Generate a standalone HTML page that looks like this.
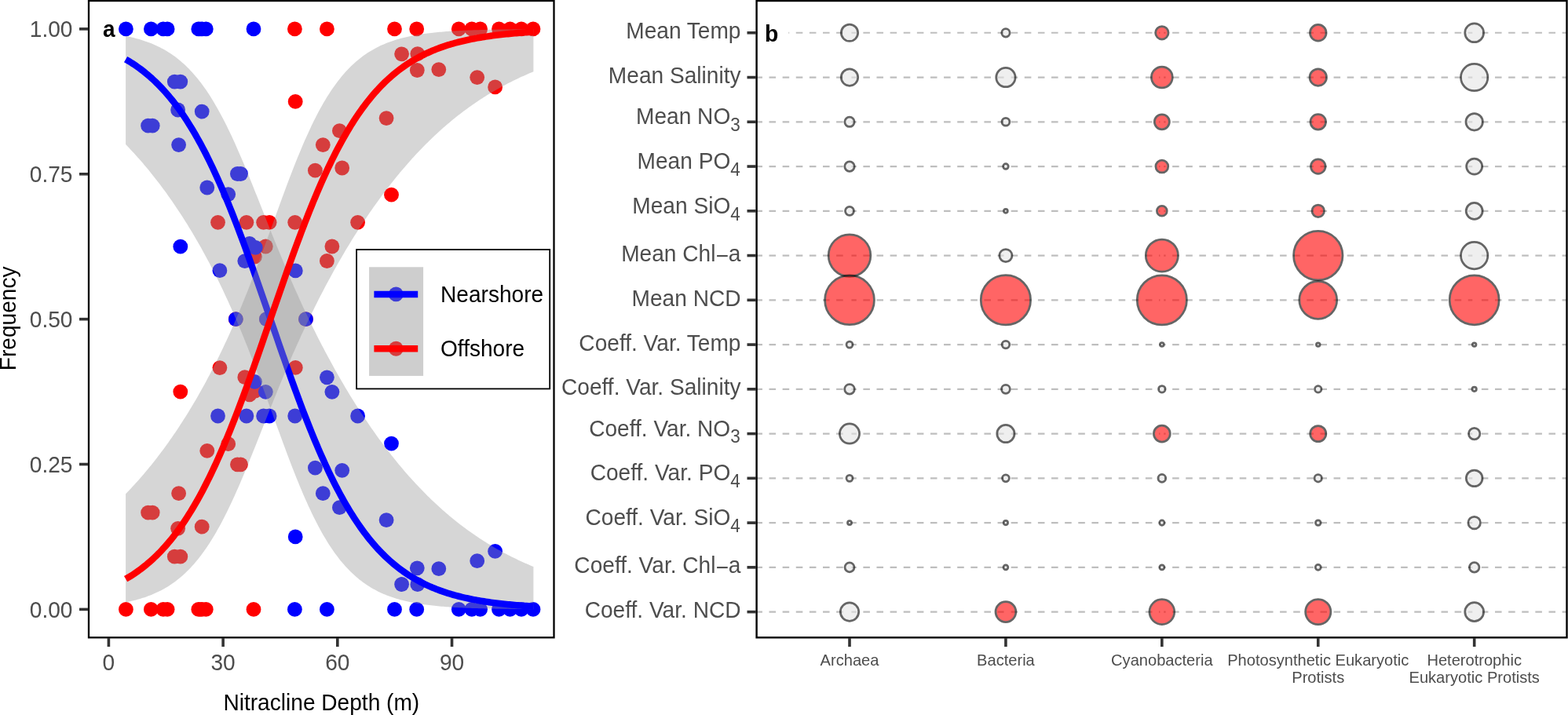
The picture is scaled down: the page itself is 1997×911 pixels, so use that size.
<!DOCTYPE html><html><head><meta charset="utf-8"><title>Nitracline depth and environmental correlates</title><style>html,body{margin:0;padding:0;background:#fff;overflow:hidden}svg{display:block}</style></head><body>
<svg width="1997" height="911" viewBox="0 0 1997 911" font-family="'Liberation Sans', Arial, Helvetica, sans-serif">
<rect width="1997" height="911" fill="#fff"/>
<defs><clipPath id="ca"><rect x="113" y="1" width="592.5" height="811.3"/></clipPath></defs>
<g clip-path="url(#ca)">
<circle cx="375.4" cy="36.90" r="9.4" fill="#f00"/>
<circle cx="416.4" cy="36.90" r="9.4" fill="#f00"/>
<circle cx="502.5" cy="36.90" r="9.4" fill="#f00"/>
<circle cx="530.7" cy="36.90" r="9.4" fill="#f00"/>
<circle cx="584.3" cy="36.90" r="9.4" fill="#f00"/>
<circle cx="600.9" cy="36.90" r="9.4" fill="#f00"/>
<circle cx="611.6" cy="36.90" r="9.4" fill="#f00"/>
<circle cx="635.5" cy="36.90" r="9.4" fill="#f00"/>
<circle cx="649.6" cy="36.90" r="9.4" fill="#f00"/>
<circle cx="664.0" cy="36.90" r="9.4" fill="#f00"/>
<circle cx="679.0" cy="36.90" r="9.4" fill="#f00"/>
<circle cx="277.5" cy="283.30" r="9.4" fill="#f00"/>
<circle cx="401.4" cy="217.20" r="9.4" fill="#f00"/>
<circle cx="435.7" cy="214.00" r="9.4" fill="#f00"/>
<circle cx="498.5" cy="248.20" r="9.4" fill="#f00"/>
<circle cx="313.9" cy="283.30" r="9.4" fill="#f00"/>
<circle cx="335.6" cy="283.30" r="9.4" fill="#f00"/>
<circle cx="343.1" cy="283.30" r="9.4" fill="#f00"/>
<circle cx="375.7" cy="283.30" r="9.4" fill="#f00"/>
<circle cx="455.6" cy="283.30" r="9.4" fill="#f00"/>
<circle cx="422.9" cy="314.00" r="9.4" fill="#f00"/>
<circle cx="416.4" cy="332.50" r="9.4" fill="#f00"/>
<circle cx="338.3" cy="314.00" r="9.4" fill="#f00"/>
<circle cx="324.4" cy="327.00" r="9.4" fill="#f00"/>
<circle cx="376.2" cy="129.40" r="9.4" fill="#f00"/>
<circle cx="432.4" cy="166.70" r="9.4" fill="#f00"/>
<circle cx="411.3" cy="184.60" r="9.4" fill="#f00"/>
<circle cx="492.1" cy="150.60" r="9.4" fill="#f00"/>
<circle cx="511.6" cy="68.80" r="9.4" fill="#f00"/>
<circle cx="531.8" cy="68.60" r="9.4" fill="#f00"/>
<circle cx="531.3" cy="89.50" r="9.4" fill="#f00"/>
<circle cx="558.8" cy="88.60" r="9.4" fill="#f00"/>
<circle cx="607.7" cy="98.60" r="9.4" fill="#f00"/>
<circle cx="630.6" cy="110.90" r="9.4" fill="#f00"/>
<circle cx="300.3" cy="406.65" r="9.4" fill="#f00"/>
<circle cx="339.4" cy="406.65" r="9.4" fill="#f00"/>
<circle cx="389.5" cy="406.65" r="9.4" fill="#f00"/>
<circle cx="160.4" cy="776.40" r="9.4" fill="#f00"/>
<circle cx="192.4" cy="776.40" r="9.4" fill="#f00"/>
<circle cx="207.9" cy="776.40" r="9.4" fill="#f00"/>
<circle cx="213.1" cy="776.40" r="9.4" fill="#f00"/>
<circle cx="252.8" cy="776.40" r="9.4" fill="#f00"/>
<circle cx="257.3" cy="776.40" r="9.4" fill="#f00"/>
<circle cx="262.3" cy="776.40" r="9.4" fill="#f00"/>
<circle cx="323.0" cy="776.40" r="9.4" fill="#f00"/>
<circle cx="222.3" cy="709.20" r="9.4" fill="#f00"/>
<circle cx="229.8" cy="709.20" r="9.4" fill="#f00"/>
<circle cx="226.6" cy="673.30" r="9.4" fill="#f00"/>
<circle cx="257.2" cy="671.20" r="9.4" fill="#f00"/>
<circle cx="188.6" cy="653.10" r="9.4" fill="#f00"/>
<circle cx="194.2" cy="653.10" r="9.4" fill="#f00"/>
<circle cx="227.6" cy="628.70" r="9.4" fill="#f00"/>
<circle cx="263.8" cy="574.30" r="9.4" fill="#f00"/>
<circle cx="290.7" cy="565.70" r="9.4" fill="#f00"/>
<circle cx="229.8" cy="499.10" r="9.4" fill="#f00"/>
<circle cx="279.9" cy="468.60" r="9.4" fill="#f00"/>
<circle cx="302.4" cy="591.80" r="9.4" fill="#f00"/>
<circle cx="306.5" cy="591.80" r="9.4" fill="#f00"/>
<circle cx="317.8" cy="502.90" r="9.4" fill="#f00"/>
<circle cx="325.3" cy="497.90" r="9.4" fill="#f00"/>
<circle cx="311.8" cy="480.70" r="9.4" fill="#f00"/>
<circle cx="376.3" cy="468.40" r="9.4" fill="#f00"/>
<circle cx="160.4" cy="36.90" r="9.4" fill="#00f"/>
<circle cx="192.4" cy="36.90" r="9.4" fill="#00f"/>
<circle cx="207.9" cy="36.90" r="9.4" fill="#00f"/>
<circle cx="213.1" cy="36.90" r="9.4" fill="#00f"/>
<circle cx="252.8" cy="36.90" r="9.4" fill="#00f"/>
<circle cx="257.3" cy="36.90" r="9.4" fill="#00f"/>
<circle cx="262.3" cy="36.90" r="9.4" fill="#00f"/>
<circle cx="323.0" cy="36.90" r="9.4" fill="#00f"/>
<circle cx="222.3" cy="104.10" r="9.4" fill="#00f"/>
<circle cx="229.8" cy="104.10" r="9.4" fill="#00f"/>
<circle cx="226.6" cy="140.00" r="9.4" fill="#00f"/>
<circle cx="257.2" cy="142.10" r="9.4" fill="#00f"/>
<circle cx="188.6" cy="160.20" r="9.4" fill="#00f"/>
<circle cx="194.2" cy="160.20" r="9.4" fill="#00f"/>
<circle cx="227.6" cy="184.60" r="9.4" fill="#00f"/>
<circle cx="263.8" cy="239.00" r="9.4" fill="#00f"/>
<circle cx="290.7" cy="247.60" r="9.4" fill="#00f"/>
<circle cx="229.8" cy="314.20" r="9.4" fill="#00f"/>
<circle cx="279.9" cy="344.70" r="9.4" fill="#00f"/>
<circle cx="302.4" cy="221.50" r="9.4" fill="#00f"/>
<circle cx="306.5" cy="221.50" r="9.4" fill="#00f"/>
<circle cx="317.8" cy="310.40" r="9.4" fill="#00f"/>
<circle cx="325.3" cy="315.40" r="9.4" fill="#00f"/>
<circle cx="311.8" cy="332.60" r="9.4" fill="#00f"/>
<circle cx="376.3" cy="344.90" r="9.4" fill="#00f"/>
<circle cx="300.3" cy="406.65" r="9.4" fill="#00f"/>
<circle cx="339.4" cy="406.65" r="9.4" fill="#00f"/>
<circle cx="389.5" cy="406.65" r="9.4" fill="#00f"/>
<circle cx="375.4" cy="776.40" r="9.4" fill="#00f"/>
<circle cx="416.4" cy="776.40" r="9.4" fill="#00f"/>
<circle cx="502.5" cy="776.40" r="9.4" fill="#00f"/>
<circle cx="530.7" cy="776.40" r="9.4" fill="#00f"/>
<circle cx="584.3" cy="776.40" r="9.4" fill="#00f"/>
<circle cx="600.9" cy="776.40" r="9.4" fill="#00f"/>
<circle cx="611.6" cy="776.40" r="9.4" fill="#00f"/>
<circle cx="635.5" cy="776.40" r="9.4" fill="#00f"/>
<circle cx="649.6" cy="776.40" r="9.4" fill="#00f"/>
<circle cx="664.0" cy="776.40" r="9.4" fill="#00f"/>
<circle cx="679.0" cy="776.40" r="9.4" fill="#00f"/>
<circle cx="277.5" cy="530.00" r="9.4" fill="#00f"/>
<circle cx="401.4" cy="596.10" r="9.4" fill="#00f"/>
<circle cx="435.7" cy="599.30" r="9.4" fill="#00f"/>
<circle cx="498.5" cy="565.10" r="9.4" fill="#00f"/>
<circle cx="313.9" cy="530.00" r="9.4" fill="#00f"/>
<circle cx="335.6" cy="530.00" r="9.4" fill="#00f"/>
<circle cx="343.1" cy="530.00" r="9.4" fill="#00f"/>
<circle cx="375.7" cy="530.00" r="9.4" fill="#00f"/>
<circle cx="455.6" cy="530.00" r="9.4" fill="#00f"/>
<circle cx="422.9" cy="499.30" r="9.4" fill="#00f"/>
<circle cx="416.4" cy="480.80" r="9.4" fill="#00f"/>
<circle cx="338.3" cy="499.30" r="9.4" fill="#00f"/>
<circle cx="324.4" cy="486.30" r="9.4" fill="#00f"/>
<circle cx="376.2" cy="683.90" r="9.4" fill="#00f"/>
<circle cx="432.4" cy="646.60" r="9.4" fill="#00f"/>
<circle cx="411.3" cy="628.70" r="9.4" fill="#00f"/>
<circle cx="492.1" cy="662.70" r="9.4" fill="#00f"/>
<circle cx="511.6" cy="744.50" r="9.4" fill="#00f"/>
<circle cx="531.8" cy="744.70" r="9.4" fill="#00f"/>
<circle cx="531.3" cy="723.80" r="9.4" fill="#00f"/>
<circle cx="558.8" cy="724.70" r="9.4" fill="#00f"/>
<circle cx="607.7" cy="714.70" r="9.4" fill="#00f"/>
<circle cx="630.6" cy="702.40" r="9.4" fill="#00f"/>
<polygon points="160.10,45.84 162.27,46.29 164.45,46.76 166.62,47.25 168.79,47.77 170.96,48.31 173.14,48.88 175.31,49.47 177.48,50.09 179.66,50.74 181.83,51.43 184.00,52.14 186.17,52.89 188.35,53.68 190.52,54.50 192.69,55.35 194.86,56.25 197.04,57.19 199.21,58.18 201.38,59.20 203.56,60.28 205.73,61.40 207.90,62.58 210.07,63.80 212.25,65.08 214.42,66.42 216.59,67.81 218.77,69.27 220.94,70.78 223.11,72.37 225.28,74.02 227.46,75.73 229.63,77.52 231.80,79.39 233.98,81.33 236.15,83.34 238.32,85.44 240.49,87.62 242.67,89.88 244.84,92.23 247.01,94.67 249.18,97.19 251.36,99.81 253.53,102.53 255.70,105.34 257.88,108.25 260.05,111.25 262.22,114.36 264.39,117.56 266.57,120.87 268.74,124.28 270.91,127.79 273.09,131.41 275.26,135.13 277.43,138.95 279.60,142.88 281.78,146.91 283.95,151.03 286.12,155.26 288.30,159.59 290.47,164.01 292.64,168.52 294.81,173.12 296.99,177.81 299.16,182.59 301.33,187.45 303.51,192.38 305.68,197.38 307.85,202.46 310.02,207.59 312.20,212.79 314.37,218.04 316.54,223.33 318.71,228.68 320.89,234.05 323.06,239.46 325.23,244.90 327.41,250.36 329.58,255.84 331.75,261.32 333.92,266.81 336.10,272.31 338.27,277.80 340.44,283.28 342.62,288.74 344.79,294.20 346.96,299.63 349.13,305.03 351.31,310.41 353.48,315.76 355.65,321.08 357.83,326.36 360.00,331.60 362.17,336.80 364.34,341.97 366.52,347.09 368.69,352.16 370.86,357.20 373.03,362.18 375.21,367.13 377.38,372.02 379.55,376.87 381.73,381.67 383.90,386.43 386.07,391.13 388.24,395.80 390.42,400.41 392.59,404.98 394.76,409.50 396.94,413.98 399.11,418.41 401.28,422.80 403.45,427.15 405.63,431.45 407.80,435.70 409.97,439.92 412.15,444.09 414.32,448.22 416.49,452.31 418.66,456.36 420.84,460.36 423.01,464.33 425.18,468.26 427.35,472.15 429.53,476.00 431.70,479.81 433.87,483.59 436.05,487.32 438.22,491.02 440.39,494.68 442.56,498.31 444.74,501.90 446.91,505.45 449.08,508.97 451.26,512.46 453.43,515.90 455.60,519.32 457.77,522.70 459.95,526.04 462.12,529.35 464.29,532.63 466.47,535.87 468.64,539.08 470.81,542.26 472.98,545.40 475.16,548.51 477.33,551.59 479.50,554.64 481.67,557.65 483.85,560.64 486.02,563.59 488.19,566.51 490.37,569.40 492.54,572.25 494.71,575.08 496.88,577.87 499.06,580.64 501.23,583.37 503.40,586.07 505.58,588.75 507.75,591.39 509.92,594.00 512.09,596.59 514.27,599.14 516.44,601.67 518.61,604.16 520.79,606.63 522.96,609.07 525.13,611.48 527.30,613.86 529.48,616.21 531.65,618.54 533.82,620.83 535.99,623.10 538.17,625.35 540.34,627.56 542.51,629.75 544.69,631.91 546.86,634.04 549.03,636.15 551.20,638.23 553.38,640.29 555.55,642.32 557.72,644.32 559.90,646.30 562.07,648.25 564.24,650.18 566.41,652.08 568.59,653.96 570.76,655.82 572.93,657.65 575.11,659.45 577.28,661.23 579.45,662.99 581.62,664.73 583.80,666.44 585.97,668.13 588.14,669.79 590.32,671.44 592.49,673.06 594.66,674.66 596.83,676.23 599.01,677.79 601.18,679.32 603.35,680.83 605.52,682.33 607.70,683.80 609.87,685.25 612.04,686.68 614.22,688.09 616.39,689.47 618.56,690.84 620.73,692.20 622.91,693.53 625.08,694.84 627.25,696.13 629.43,697.41 631.60,698.66 633.77,699.90 635.94,701.12 638.12,702.32 640.29,703.51 642.46,704.67 644.64,705.82 646.81,706.95 648.98,708.07 651.15,709.17 653.33,710.25 655.50,711.32 657.67,712.37 659.84,713.41 662.02,714.43 664.19,715.43 666.36,716.42 668.54,717.39 670.71,718.35 672.88,719.30 675.05,720.23 677.23,721.14 679.40,722.04 679.40,776.15 677.23,776.14 675.05,776.13 672.88,776.11 670.71,776.10 668.54,776.08 666.36,776.06 664.19,776.05 662.02,776.03 659.84,776.01 657.67,775.99 655.50,775.97 653.33,775.95 651.15,775.92 648.98,775.90 646.81,775.87 644.64,775.84 642.46,775.81 640.29,775.78 638.12,775.75 635.94,775.72 633.77,775.68 631.60,775.65 629.43,775.61 627.25,775.57 625.08,775.52 622.91,775.48 620.73,775.43 618.56,775.38 616.39,775.33 614.22,775.27 612.04,775.22 609.87,775.16 607.70,775.09 605.52,775.02 603.35,774.95 601.18,774.88 599.01,774.80 596.83,774.72 594.66,774.63 592.49,774.54 590.32,774.45 588.14,774.35 585.97,774.24 583.80,774.13 581.62,774.01 579.45,773.89 577.28,773.76 575.11,773.63 572.93,773.49 570.76,773.34 568.59,773.18 566.41,773.01 564.24,772.84 562.07,772.66 559.90,772.47 557.72,772.27 555.55,772.06 553.38,771.84 551.20,771.61 549.03,771.36 546.86,771.11 544.69,770.84 542.51,770.56 540.34,770.26 538.17,769.95 535.99,769.62 533.82,769.28 531.65,768.92 529.48,768.54 527.30,768.15 525.13,767.73 522.96,767.30 520.79,766.84 518.61,766.36 516.44,765.86 514.27,765.33 512.09,764.78 509.92,764.20 507.75,763.60 505.58,762.96 503.40,762.29 501.23,761.60 499.06,760.86 496.88,760.10 494.71,759.30 492.54,758.45 490.37,757.58 488.19,756.65 486.02,755.69 483.85,754.68 481.67,753.63 479.50,752.53 477.33,751.37 475.16,750.17 472.98,748.91 470.81,747.59 468.64,746.22 466.47,744.78 464.29,743.29 462.12,741.72 459.95,740.09 457.77,738.39 455.60,736.62 453.43,734.77 451.26,732.85 449.08,730.84 446.91,728.76 444.74,726.59 442.56,724.33 440.39,721.99 438.22,719.55 436.05,717.02 433.87,714.39 431.70,711.67 429.53,708.85 427.35,705.92 425.18,702.89 423.01,699.75 420.84,696.51 418.66,693.15 416.49,689.69 414.32,686.11 412.15,682.43 409.97,678.63 407.80,674.71 405.63,670.69 403.45,666.55 401.28,662.29 399.11,657.93 396.94,653.45 394.76,648.86 392.59,644.17 390.42,639.37 388.24,634.46 386.07,629.46 383.90,624.35 381.73,619.15 379.55,613.86 377.38,608.49 375.21,603.03 373.03,597.50 370.86,591.89 368.69,586.22 366.52,580.49 364.34,574.70 362.17,568.86 360.00,562.98 357.83,557.07 355.65,551.12 353.48,545.15 351.31,539.17 349.13,533.17 346.96,527.17 344.79,521.17 342.62,515.17 340.44,509.19 338.27,503.23 336.10,497.29 333.92,491.38 331.75,485.50 329.58,479.66 327.41,473.86 325.23,468.11 323.06,462.41 320.89,456.75 318.71,451.15 316.54,445.61 314.37,440.12 312.20,434.70 310.02,429.33 307.85,424.03 305.68,418.78 303.51,413.60 301.33,408.49 299.16,403.44 296.99,398.45 294.81,393.53 292.64,388.67 290.47,383.87 288.30,379.13 286.12,374.46 283.95,369.84 281.78,365.29 279.60,360.80 277.43,356.36 275.26,351.99 273.09,347.67 270.91,343.40 268.74,339.19 266.57,335.04 264.39,330.94 262.22,326.89 260.05,322.90 257.88,318.95 255.70,315.06 253.53,311.21 251.36,307.41 249.18,303.67 247.01,299.96 244.84,296.31 242.67,292.70 240.49,289.13 238.32,285.61 236.15,282.13 233.98,278.70 231.80,275.31 229.63,271.96 227.46,268.65 225.28,265.38 223.11,262.15 220.94,258.96 218.77,255.81 216.59,252.70 214.42,249.63 212.25,246.60 210.07,243.60 207.90,240.64 205.73,237.71 203.56,234.83 201.38,231.97 199.21,229.16 197.04,226.38 194.86,223.63 192.69,220.92 190.52,218.24 188.35,215.59 186.17,212.98 184.00,210.40 181.83,207.85 179.66,205.34 177.48,202.85 175.31,200.40 173.14,197.98 170.96,195.59 168.79,193.23 166.62,190.91 164.45,188.61 162.27,186.34 160.10,184.10" fill="#999" fill-opacity="0.4"/>
<polyline points="160.10,75.56 162.27,76.83 164.45,78.14 166.62,79.49 168.79,80.88 170.96,82.32 173.14,83.79 175.31,85.32 177.48,86.89 179.66,88.50 181.83,90.17 184.00,91.88 186.17,93.64 188.35,95.46 190.52,97.33 192.69,99.25 194.86,101.23 197.04,103.26 199.21,105.36 201.38,107.51 203.56,109.72 205.73,111.99 207.90,114.33 210.07,116.73 212.25,119.20 214.42,121.73 216.59,124.33 218.77,127.00 220.94,129.73 223.11,132.54 225.28,135.42 227.46,138.38 229.63,141.41 231.80,144.51 233.98,147.69 236.15,150.94 238.32,154.28 240.49,157.69 242.67,161.18 244.84,164.76 247.01,168.41 249.18,172.14 251.36,175.96 253.53,179.86 255.70,183.84 257.88,187.90 260.05,192.05 262.22,196.28 264.39,200.59 266.57,204.99 268.74,209.46 270.91,214.02 273.09,218.67 275.26,223.39 277.43,228.19 279.60,233.08 281.78,238.04 283.95,243.08 286.12,248.20 288.30,253.39 290.47,258.66 292.64,264.00 294.81,269.41 296.99,274.89 299.16,280.44 301.33,286.05 303.51,291.72 305.68,297.46 307.85,303.25 310.02,309.10 312.20,315.00 314.37,320.96 316.54,326.96 318.71,333.00 320.89,339.08 323.06,345.21 325.23,351.37 327.41,357.56 329.58,363.77 331.75,370.02 333.92,376.28 336.10,382.56 338.27,388.85 340.44,395.16 342.62,401.47 344.79,407.79 346.96,414.10 349.13,420.41 351.31,426.71 353.48,433.00 355.65,439.28 357.83,445.54 360.00,451.77 362.17,457.98 364.34,464.16 366.52,470.30 368.69,476.41 370.86,482.48 373.03,488.51 375.21,494.49 377.38,500.43 379.55,506.31 381.73,512.14 383.90,517.91 386.07,523.63 388.24,529.28 390.42,534.87 392.59,540.39 394.76,545.84 396.94,551.23 399.11,556.54 401.28,561.78 403.45,566.95 405.63,572.04 407.80,577.05 409.97,581.99 412.15,586.84 414.32,591.62 416.49,596.31 418.66,600.93 420.84,605.46 423.01,609.91 425.18,614.27 427.35,618.55 429.53,622.75 431.70,626.87 433.87,630.90 436.05,634.86 438.22,638.72 440.39,642.51 442.56,646.22 444.74,649.84 446.91,653.38 449.08,656.85 451.26,660.23 453.43,663.54 455.60,666.77 457.77,669.92 459.95,672.99 462.12,675.99 464.29,678.92 466.47,681.78 468.64,684.56 470.81,687.27 472.98,689.92 475.16,692.49 477.33,695.00 479.50,697.44 481.67,699.82 483.85,702.13 486.02,704.38 488.19,706.57 490.37,708.70 492.54,710.77 494.71,712.79 496.88,714.75 499.06,716.65 501.23,718.50 503.40,720.30 505.58,722.04 507.75,723.74 509.92,725.38 512.09,726.98 514.27,728.54 516.44,730.04 518.61,731.50 520.79,732.92 522.96,734.30 525.13,735.64 527.30,736.93 529.48,738.19 531.65,739.41 533.82,740.59 535.99,741.74 538.17,742.85 540.34,743.93 542.51,744.97 544.69,745.98 546.86,746.96 549.03,747.91 551.20,748.83 553.38,749.73 555.55,750.59 557.72,751.43 559.90,752.24 562.07,753.03 564.24,753.79 566.41,754.52 568.59,755.24 570.76,755.93 572.93,756.60 575.11,757.25 577.28,757.87 579.45,758.48 581.62,759.07 583.80,759.64 585.97,760.19 588.14,760.72 590.32,761.24 592.49,761.74 594.66,762.22 596.83,762.69 599.01,763.14 601.18,763.58 603.35,764.00 605.52,764.41 607.70,764.81 609.87,765.19 612.04,765.56 614.22,765.92 616.39,766.27 618.56,766.60 620.73,766.93 622.91,767.24 625.08,767.54 627.25,767.84 629.43,768.12 631.60,768.40 633.77,768.66 635.94,768.92 638.12,769.17 640.29,769.41 642.46,769.64 644.64,769.87 646.81,770.09 648.98,770.30 651.15,770.50 653.33,770.70 655.50,770.89 657.67,771.07 659.84,771.25 662.02,771.42 664.19,771.59 666.36,771.75 668.54,771.90 670.71,772.05 672.88,772.20 675.05,772.34 677.23,772.47 679.40,772.60" fill="none" stroke="#00f" stroke-width="8.4"/>
<polygon points="160.10,767.46 162.27,767.01 164.45,766.54 166.62,766.05 168.79,765.53 170.96,764.99 173.14,764.42 175.31,763.83 177.48,763.21 179.66,762.56 181.83,761.87 184.00,761.16 186.17,760.41 188.35,759.62 190.52,758.80 192.69,757.95 194.86,757.05 197.04,756.11 199.21,755.12 201.38,754.10 203.56,753.02 205.73,751.90 207.90,750.72 210.07,749.50 212.25,748.22 214.42,746.88 216.59,745.49 218.77,744.03 220.94,742.52 223.11,740.93 225.28,739.28 227.46,737.57 229.63,735.78 231.80,733.91 233.98,731.97 236.15,729.96 238.32,727.86 240.49,725.68 242.67,723.42 244.84,721.07 247.01,718.63 249.18,716.11 251.36,713.49 253.53,710.77 255.70,707.96 257.88,705.05 260.05,702.05 262.22,698.94 264.39,695.74 266.57,692.43 268.74,689.02 270.91,685.51 273.09,681.89 275.26,678.17 277.43,674.35 279.60,670.42 281.78,666.39 283.95,662.27 286.12,658.04 288.30,653.71 290.47,649.29 292.64,644.78 294.81,640.18 296.99,635.49 299.16,630.71 301.33,625.85 303.51,620.92 305.68,615.92 307.85,610.84 310.02,605.71 312.20,600.51 314.37,595.26 316.54,589.97 318.71,584.62 320.89,579.25 323.06,573.84 325.23,568.40 327.41,562.94 329.58,557.46 331.75,551.98 333.92,546.49 336.10,540.99 338.27,535.50 340.44,530.02 342.62,524.56 344.79,519.10 346.96,513.67 349.13,508.27 351.31,502.89 353.48,497.54 355.65,492.22 357.83,486.94 360.00,481.70 362.17,476.50 364.34,471.33 366.52,466.21 368.69,461.14 370.86,456.10 373.03,451.12 375.21,446.17 377.38,441.28 379.55,436.43 381.73,431.63 383.90,426.87 386.07,422.17 388.24,417.50 390.42,412.89 392.59,408.32 394.76,403.80 396.94,399.32 399.11,394.89 401.28,390.50 403.45,386.15 405.63,381.85 407.80,377.60 409.97,373.38 412.15,369.21 414.32,365.08 416.49,360.99 418.66,356.94 420.84,352.94 423.01,348.97 425.18,345.04 427.35,341.15 429.53,337.30 431.70,333.49 433.87,329.71 436.05,325.98 438.22,322.28 440.39,318.62 442.56,314.99 444.74,311.40 446.91,307.85 449.08,304.33 451.26,300.84 453.43,297.40 455.60,293.98 457.77,290.60 459.95,287.26 462.12,283.95 464.29,280.67 466.47,277.43 468.64,274.22 470.81,271.04 472.98,267.90 475.16,264.79 477.33,261.71 479.50,258.66 481.67,255.65 483.85,252.66 486.02,249.71 488.19,246.79 490.37,243.90 492.54,241.05 494.71,238.22 496.88,235.43 499.06,232.66 501.23,229.93 503.40,227.23 505.58,224.55 507.75,221.91 509.92,219.30 512.09,216.71 514.27,214.16 516.44,211.63 518.61,209.14 520.79,206.67 522.96,204.23 525.13,201.82 527.30,199.44 529.48,197.09 531.65,194.76 533.82,192.47 535.99,190.20 538.17,187.95 540.34,185.74 542.51,183.55 544.69,181.39 546.86,179.26 549.03,177.15 551.20,175.07 553.38,173.01 555.55,170.98 557.72,168.98 559.90,167.00 562.07,165.05 564.24,163.12 566.41,161.22 568.59,159.34 570.76,157.48 572.93,155.65 575.11,153.85 577.28,152.07 579.45,150.31 581.62,148.57 583.80,146.86 585.97,145.17 588.14,143.51 590.32,141.86 592.49,140.24 594.66,138.64 596.83,137.07 599.01,135.51 601.18,133.98 603.35,132.47 605.52,130.97 607.70,129.50 609.87,128.05 612.04,126.62 614.22,125.21 616.39,123.83 618.56,122.46 620.73,121.10 622.91,119.77 625.08,118.46 627.25,117.17 629.43,115.89 631.60,114.64 633.77,113.40 635.94,112.18 638.12,110.98 640.29,109.79 642.46,108.63 644.64,107.48 646.81,106.35 648.98,105.23 651.15,104.13 653.33,103.05 655.50,101.98 657.67,100.93 659.84,99.89 662.02,98.87 664.19,97.87 666.36,96.88 668.54,95.91 670.71,94.95 672.88,94.00 675.05,93.07 677.23,92.16 679.40,91.26 679.40,37.15 677.23,37.16 675.05,37.17 672.88,37.19 670.71,37.20 668.54,37.22 666.36,37.24 664.19,37.25 662.02,37.27 659.84,37.29 657.67,37.31 655.50,37.33 653.33,37.35 651.15,37.38 648.98,37.40 646.81,37.43 644.64,37.46 642.46,37.49 640.29,37.52 638.12,37.55 635.94,37.58 633.77,37.62 631.60,37.65 629.43,37.69 627.25,37.73 625.08,37.78 622.91,37.82 620.73,37.87 618.56,37.92 616.39,37.97 614.22,38.03 612.04,38.08 609.87,38.14 607.70,38.21 605.52,38.28 603.35,38.35 601.18,38.42 599.01,38.50 596.83,38.58 594.66,38.67 592.49,38.76 590.32,38.85 588.14,38.95 585.97,39.06 583.80,39.17 581.62,39.29 579.45,39.41 577.28,39.54 575.11,39.67 572.93,39.81 570.76,39.96 568.59,40.12 566.41,40.29 564.24,40.46 562.07,40.64 559.90,40.83 557.72,41.03 555.55,41.24 553.38,41.46 551.20,41.69 549.03,41.94 546.86,42.19 544.69,42.46 542.51,42.74 540.34,43.04 538.17,43.35 535.99,43.68 533.82,44.02 531.65,44.38 529.48,44.76 527.30,45.15 525.13,45.57 522.96,46.00 520.79,46.46 518.61,46.94 516.44,47.44 514.27,47.97 512.09,48.52 509.92,49.10 507.75,49.70 505.58,50.34 503.40,51.01 501.23,51.70 499.06,52.44 496.88,53.20 494.71,54.00 492.54,54.85 490.37,55.72 488.19,56.65 486.02,57.61 483.85,58.62 481.67,59.67 479.50,60.77 477.33,61.93 475.16,63.13 472.98,64.39 470.81,65.71 468.64,67.08 466.47,68.52 464.29,70.01 462.12,71.58 459.95,73.21 457.77,74.91 455.60,76.68 453.43,78.53 451.26,80.45 449.08,82.46 446.91,84.54 444.74,86.71 442.56,88.97 440.39,91.31 438.22,93.75 436.05,96.28 433.87,98.91 431.70,101.63 429.53,104.45 427.35,107.38 425.18,110.41 423.01,113.55 420.84,116.79 418.66,120.15 416.49,123.61 414.32,127.19 412.15,130.87 409.97,134.67 407.80,138.59 405.63,142.61 403.45,146.75 401.28,151.01 399.11,155.37 396.94,159.85 394.76,164.44 392.59,169.13 390.42,173.93 388.24,178.84 386.07,183.84 383.90,188.95 381.73,194.15 379.55,199.44 377.38,204.81 375.21,210.27 373.03,215.80 370.86,221.41 368.69,227.08 366.52,232.81 364.34,238.60 362.17,244.44 360.00,250.32 357.83,256.23 355.65,262.18 353.48,268.15 351.31,274.13 349.13,280.13 346.96,286.13 344.79,292.13 342.62,298.13 340.44,304.11 338.27,310.07 336.10,316.01 333.92,321.92 331.75,327.80 329.58,333.64 327.41,339.44 325.23,345.19 323.06,350.89 320.89,356.55 318.71,362.15 316.54,367.69 314.37,373.18 312.20,378.60 310.02,383.97 307.85,389.27 305.68,394.52 303.51,399.70 301.33,404.81 299.16,409.86 296.99,414.85 294.81,419.77 292.64,424.63 290.47,429.43 288.30,434.17 286.12,438.84 283.95,443.46 281.78,448.01 279.60,452.50 277.43,456.94 275.26,461.31 273.09,465.63 270.91,469.90 268.74,474.11 266.57,478.26 264.39,482.36 262.22,486.41 260.05,490.40 257.88,494.35 255.70,498.24 253.53,502.09 251.36,505.89 249.18,509.63 247.01,513.34 244.84,516.99 242.67,520.60 240.49,524.17 238.32,527.69 236.15,531.17 233.98,534.60 231.80,537.99 229.63,541.34 227.46,544.65 225.28,547.92 223.11,551.15 220.94,554.34 218.77,557.49 216.59,560.60 214.42,563.67 212.25,566.70 210.07,569.70 207.90,572.66 205.73,575.59 203.56,578.47 201.38,581.33 199.21,584.14 197.04,586.92 194.86,589.67 192.69,592.38 190.52,595.06 188.35,597.71 186.17,600.32 184.00,602.90 181.83,605.45 179.66,607.96 177.48,610.45 175.31,612.90 173.14,615.32 170.96,617.71 168.79,620.07 166.62,622.39 164.45,624.69 162.27,626.96 160.10,629.20" fill="#999" fill-opacity="0.4"/>
<polyline points="160.10,737.74 162.27,736.47 164.45,735.16 166.62,733.81 168.79,732.42 170.96,730.98 173.14,729.51 175.31,727.98 177.48,726.41 179.66,724.80 181.83,723.13 184.00,721.42 186.17,719.66 188.35,717.84 190.52,715.97 192.69,714.05 194.86,712.07 197.04,710.04 199.21,707.94 201.38,705.79 203.56,703.58 205.73,701.31 207.90,698.97 210.07,696.57 212.25,694.10 214.42,691.57 216.59,688.97 218.77,686.30 220.94,683.57 223.11,680.76 225.28,677.88 227.46,674.92 229.63,671.89 231.80,668.79 233.98,665.61 236.15,662.36 238.32,659.02 240.49,655.61 242.67,652.12 244.84,648.54 247.01,644.89 249.18,641.16 251.36,637.34 253.53,633.44 255.70,629.46 257.88,625.40 260.05,621.25 262.22,617.02 264.39,612.71 266.57,608.31 268.74,603.84 270.91,599.28 273.09,594.63 275.26,589.91 277.43,585.11 279.60,580.22 281.78,575.26 283.95,570.22 286.12,565.10 288.30,559.91 290.47,554.64 292.64,549.30 294.81,543.89 296.99,538.41 299.16,532.86 301.33,527.25 303.51,521.58 305.68,515.84 307.85,510.05 310.02,504.20 312.20,498.30 314.37,492.34 316.54,486.34 318.71,480.30 320.89,474.22 323.06,468.09 325.23,461.93 327.41,455.74 329.58,449.53 331.75,443.28 333.92,437.02 336.10,430.74 338.27,424.45 340.44,418.14 342.62,411.83 344.79,405.51 346.96,399.20 349.13,392.89 351.31,386.59 353.48,380.30 355.65,374.02 357.83,367.76 360.00,361.53 362.17,355.32 364.34,349.14 366.52,343.00 368.69,336.89 370.86,330.82 373.03,324.79 375.21,318.81 377.38,312.87 379.55,306.99 381.73,301.16 383.90,295.39 386.07,289.67 388.24,284.02 390.42,278.43 392.59,272.91 394.76,267.46 396.94,262.07 399.11,256.76 401.28,251.52 403.45,246.35 405.63,241.26 407.80,236.25 409.97,231.31 412.15,226.46 414.32,221.68 416.49,216.99 418.66,212.37 420.84,207.84 423.01,203.39 425.18,199.03 427.35,194.75 429.53,190.55 431.70,186.43 433.87,182.40 436.05,178.44 438.22,174.58 440.39,170.79 442.56,167.08 444.74,163.46 446.91,159.92 449.08,156.45 451.26,153.07 453.43,149.76 455.60,146.53 457.77,143.38 459.95,140.31 462.12,137.31 464.29,134.38 466.47,131.52 468.64,128.74 470.81,126.03 472.98,123.38 475.16,120.81 477.33,118.30 479.50,115.86 481.67,113.48 483.85,111.17 486.02,108.92 488.19,106.73 490.37,104.60 492.54,102.53 494.71,100.51 496.88,98.55 499.06,96.65 501.23,94.80 503.40,93.00 505.58,91.26 507.75,89.56 509.92,87.92 512.09,86.32 514.27,84.76 516.44,83.26 518.61,81.80 520.79,80.38 522.96,79.00 525.13,77.66 527.30,76.37 529.48,75.11 531.65,73.89 533.82,72.71 535.99,71.56 538.17,70.45 540.34,69.37 542.51,68.33 544.69,67.32 546.86,66.34 549.03,65.39 551.20,64.47 553.38,63.57 555.55,62.71 557.72,61.87 559.90,61.06 562.07,60.27 564.24,59.51 566.41,58.78 568.59,58.06 570.76,57.37 572.93,56.70 575.11,56.05 577.28,55.43 579.45,54.82 581.62,54.23 583.80,53.66 585.97,53.11 588.14,52.58 590.32,52.06 592.49,51.56 594.66,51.08 596.83,50.61 599.01,50.16 601.18,49.72 603.35,49.30 605.52,48.89 607.70,48.49 609.87,48.11 612.04,47.74 614.22,47.38 616.39,47.03 618.56,46.70 620.73,46.37 622.91,46.06 625.08,45.76 627.25,45.46 629.43,45.18 631.60,44.90 633.77,44.64 635.94,44.38 638.12,44.13 640.29,43.89 642.46,43.66 644.64,43.43 646.81,43.21 648.98,43.00 651.15,42.80 653.33,42.60 655.50,42.41 657.67,42.23 659.84,42.05 662.02,41.88 664.19,41.71 666.36,41.55 668.54,41.40 670.71,41.25 672.88,41.10 675.05,40.96 677.23,40.83 679.40,40.70" fill="none" stroke="#f00" stroke-width="8.4"/>
</g>
<text transform="translate(131.00,46.80) scale(1,1.04)" font-size="28" fill="#000" font-weight="bold">a</text>
<rect x="454.1" y="318.0" width="246.1" height="177.4" fill="#fff" stroke="#000" stroke-width="1.8"/>
<rect x="470.1" y="340.3" width="69.0" height="138.6" fill="#f2f2f2"/>
<circle cx="504.3" cy="374.95" r="9.4" fill="#00f"/><circle cx="504.3" cy="444.25" r="9.4" fill="#f00"/>
<rect x="470.1" y="340.3" width="69.0" height="138.6" fill="#999" fill-opacity="0.4"/>
<line x1="476.4" y1="374.95" x2="532.2" y2="374.95" stroke="#00f" stroke-width="8.4"/>
<line x1="476.4" y1="444.25" x2="532.2" y2="444.25" stroke="#f00" stroke-width="8.4"/>
<text transform="translate(561.00,385.00) scale(1,1.042)" font-size="28.1" fill="#000">Nearshore</text>
<text transform="translate(561.00,454.30) scale(1,1.042)" font-size="28.1" fill="#000">Offshore</text>
<rect x="113" y="1" width="592.5" height="811.3" fill="none" stroke="#000" stroke-width="2.3"/>
<line x1="101" y1="36.90" x2="112" y2="36.90" stroke="#333" stroke-width="3.6"/>
<text transform="translate(92.50,47.00) scale(1,1.042)" font-size="28.1" fill="#4d4d4d" text-anchor="end">1.00</text>
<line x1="101" y1="221.77" x2="112" y2="221.77" stroke="#333" stroke-width="3.6"/>
<text transform="translate(92.50,231.87) scale(1,1.042)" font-size="28.1" fill="#4d4d4d" text-anchor="end">0.75</text>
<line x1="101" y1="406.65" x2="112" y2="406.65" stroke="#333" stroke-width="3.6"/>
<text transform="translate(92.50,416.75) scale(1,1.042)" font-size="28.1" fill="#4d4d4d" text-anchor="end">0.50</text>
<line x1="101" y1="591.52" x2="112" y2="591.52" stroke="#333" stroke-width="3.6"/>
<text transform="translate(92.50,601.62) scale(1,1.042)" font-size="28.1" fill="#4d4d4d" text-anchor="end">0.25</text>
<line x1="101" y1="776.40" x2="112" y2="776.40" stroke="#333" stroke-width="3.6"/>
<text transform="translate(92.50,786.50) scale(1,1.042)" font-size="28.1" fill="#4d4d4d" text-anchor="end">0.00</text>
<line x1="138.40" y1="813" x2="138.40" y2="824" stroke="#333" stroke-width="3.6"/>
<text transform="translate(138.40,853.50) scale(1,1.042)" font-size="28.1" fill="#4d4d4d" text-anchor="middle">0</text>
<line x1="284.11" y1="813" x2="284.11" y2="824" stroke="#333" stroke-width="3.6"/>
<text transform="translate(284.11,853.50) scale(1,1.042)" font-size="28.1" fill="#4d4d4d" text-anchor="middle">30</text>
<line x1="429.82" y1="813" x2="429.82" y2="824" stroke="#333" stroke-width="3.6"/>
<text transform="translate(429.82,853.50) scale(1,1.042)" font-size="28.1" fill="#4d4d4d" text-anchor="middle">60</text>
<line x1="575.53" y1="813" x2="575.53" y2="824" stroke="#333" stroke-width="3.6"/>
<text transform="translate(575.53,853.50) scale(1,1.042)" font-size="28.1" fill="#4d4d4d" text-anchor="middle">90</text>
<text transform="translate(409.30,905.20) scale(1,1.042)" font-size="28.1" fill="#000" text-anchor="middle">Nitracline Depth (m)</text>
<text transform="translate(19.80,405.80) rotate(-90) scale(1,1.042)" font-size="28.1" fill="#000" text-anchor="middle">Frequency</text>
<line x1="962.4" y1="41.80" x2="1995.5" y2="41.80" stroke="#bebebe" stroke-width="2.14" stroke-dasharray="8.56 8.56"/>
<line x1="962.4" y1="98.56" x2="1995.5" y2="98.56" stroke="#bebebe" stroke-width="2.14" stroke-dasharray="8.56 8.56"/>
<line x1="962.4" y1="155.31" x2="1995.5" y2="155.31" stroke="#bebebe" stroke-width="2.14" stroke-dasharray="8.56 8.56"/>
<line x1="962.4" y1="212.06" x2="1995.5" y2="212.06" stroke="#bebebe" stroke-width="2.14" stroke-dasharray="8.56 8.56"/>
<line x1="962.4" y1="268.82" x2="1995.5" y2="268.82" stroke="#bebebe" stroke-width="2.14" stroke-dasharray="8.56 8.56"/>
<line x1="962.4" y1="325.58" x2="1995.5" y2="325.58" stroke="#bebebe" stroke-width="2.14" stroke-dasharray="8.56 8.56"/>
<line x1="962.4" y1="382.33" x2="1995.5" y2="382.33" stroke="#bebebe" stroke-width="2.14" stroke-dasharray="8.56 8.56"/>
<line x1="962.4" y1="439.09" x2="1995.5" y2="439.09" stroke="#bebebe" stroke-width="2.14" stroke-dasharray="8.56 8.56"/>
<line x1="962.4" y1="495.84" x2="1995.5" y2="495.84" stroke="#bebebe" stroke-width="2.14" stroke-dasharray="8.56 8.56"/>
<line x1="962.4" y1="552.60" x2="1995.5" y2="552.60" stroke="#bebebe" stroke-width="2.14" stroke-dasharray="8.56 8.56"/>
<line x1="962.4" y1="609.35" x2="1995.5" y2="609.35" stroke="#bebebe" stroke-width="2.14" stroke-dasharray="8.56 8.56"/>
<line x1="962.4" y1="666.11" x2="1995.5" y2="666.11" stroke="#bebebe" stroke-width="2.14" stroke-dasharray="8.56 8.56"/>
<line x1="962.4" y1="722.86" x2="1995.5" y2="722.86" stroke="#bebebe" stroke-width="2.14" stroke-dasharray="8.56 8.56"/>
<line x1="962.4" y1="779.62" x2="1995.5" y2="779.62" stroke="#bebebe" stroke-width="2.14" stroke-dasharray="8.56 8.56"/>
<line x1="1082.00" y1="2" x2="1082.00" y2="811" stroke="#fff" stroke-width="4.8"/>
<line x1="1280.92" y1="2" x2="1280.92" y2="811" stroke="#fff" stroke-width="4.8"/>
<line x1="1479.84" y1="2" x2="1479.84" y2="811" stroke="#fff" stroke-width="4.8"/>
<line x1="1678.76" y1="2" x2="1678.76" y2="811" stroke="#fff" stroke-width="4.8"/>
<line x1="1877.68" y1="2" x2="1877.68" y2="811" stroke="#fff" stroke-width="4.8"/>
<rect x="965" y="24" width="39.3" height="36" fill="#fff"/>
<text transform="translate(974.00,52.70) scale(1,1.03)" font-size="28.4" fill="#000" font-weight="bold">b</text>
<circle cx="1082.00" cy="41.80" r="10.68" fill="#e5e5e5" stroke="#000" stroke-width="2.75" opacity="0.6"/>
<circle cx="1280.92" cy="41.80" r="5.20" fill="#e5e5e5" stroke="#000" stroke-width="2.75" opacity="0.6"/>
<circle cx="1479.84" cy="41.80" r="8.23" fill="#f00" stroke="#000" stroke-width="2.75" opacity="0.6"/>
<circle cx="1678.76" cy="41.80" r="10.33" fill="#f00" stroke="#000" stroke-width="2.75" opacity="0.6"/>
<circle cx="1877.68" cy="41.80" r="11.93" fill="#e5e5e5" stroke="#000" stroke-width="2.75" opacity="0.6"/>
<circle cx="1082.00" cy="98.56" r="10.70" fill="#e5e5e5" stroke="#000" stroke-width="2.75" opacity="0.6"/>
<circle cx="1280.92" cy="98.56" r="12.18" fill="#e5e5e5" stroke="#000" stroke-width="2.75" opacity="0.6"/>
<circle cx="1479.84" cy="98.56" r="13.39" fill="#f00" stroke="#000" stroke-width="2.75" opacity="0.6"/>
<circle cx="1678.76" cy="98.56" r="10.73" fill="#f00" stroke="#000" stroke-width="2.75" opacity="0.6"/>
<circle cx="1877.68" cy="98.56" r="17.18" fill="#e5e5e5" stroke="#000" stroke-width="2.75" opacity="0.6"/>
<circle cx="1082.00" cy="155.31" r="6.16" fill="#e5e5e5" stroke="#000" stroke-width="2.75" opacity="0.6"/>
<circle cx="1280.92" cy="155.31" r="4.92" fill="#e5e5e5" stroke="#000" stroke-width="2.75" opacity="0.6"/>
<circle cx="1479.84" cy="155.31" r="9.53" fill="#f00" stroke="#000" stroke-width="2.75" opacity="0.6"/>
<circle cx="1678.76" cy="155.31" r="9.78" fill="#f00" stroke="#000" stroke-width="2.75" opacity="0.6"/>
<circle cx="1877.68" cy="155.31" r="10.70" fill="#e5e5e5" stroke="#000" stroke-width="2.75" opacity="0.6"/>
<circle cx="1082.00" cy="212.06" r="6.23" fill="#e5e5e5" stroke="#000" stroke-width="2.75" opacity="0.6"/>
<circle cx="1280.92" cy="212.06" r="3.32" fill="#e5e5e5" stroke="#000" stroke-width="2.75" opacity="0.6"/>
<circle cx="1479.84" cy="212.06" r="7.93" fill="#f00" stroke="#000" stroke-width="2.75" opacity="0.6"/>
<circle cx="1678.76" cy="212.06" r="9.29" fill="#f00" stroke="#000" stroke-width="2.75" opacity="0.6"/>
<circle cx="1877.68" cy="212.06" r="10.03" fill="#e5e5e5" stroke="#000" stroke-width="2.75" opacity="0.6"/>
<circle cx="1082.00" cy="268.82" r="5.53" fill="#e5e5e5" stroke="#000" stroke-width="2.75" opacity="0.6"/>
<circle cx="1280.92" cy="268.82" r="2.43" fill="#e5e5e5" stroke="#000" stroke-width="2.75" opacity="0.6"/>
<circle cx="1479.84" cy="268.82" r="6.42" fill="#f00" stroke="#000" stroke-width="2.75" opacity="0.6"/>
<circle cx="1678.76" cy="268.82" r="7.78" fill="#f00" stroke="#000" stroke-width="2.75" opacity="0.6"/>
<circle cx="1877.68" cy="268.82" r="10.48" fill="#e5e5e5" stroke="#000" stroke-width="2.75" opacity="0.6"/>
<circle cx="1082.00" cy="325.58" r="26.82" fill="#f00" stroke="#000" stroke-width="2.75" opacity="0.6"/>
<circle cx="1280.92" cy="325.58" r="8.08" fill="#e5e5e5" stroke="#000" stroke-width="2.75" opacity="0.6"/>
<circle cx="1479.84" cy="325.58" r="20.57" fill="#f00" stroke="#000" stroke-width="2.75" opacity="0.6"/>
<circle cx="1678.76" cy="325.58" r="31.22" fill="#f00" stroke="#000" stroke-width="2.75" opacity="0.6"/>
<circle cx="1877.68" cy="325.58" r="17.18" fill="#e5e5e5" stroke="#000" stroke-width="2.75" opacity="0.6"/>
<circle cx="1082.00" cy="382.33" r="31.42" fill="#f00" stroke="#000" stroke-width="2.75" opacity="0.6"/>
<circle cx="1280.92" cy="382.33" r="31.67" fill="#f00" stroke="#000" stroke-width="2.75" opacity="0.6"/>
<circle cx="1479.84" cy="382.33" r="31.57" fill="#f00" stroke="#000" stroke-width="2.75" opacity="0.6"/>
<circle cx="1678.76" cy="382.33" r="23.93" fill="#f00" stroke="#000" stroke-width="2.75" opacity="0.6"/>
<circle cx="1877.68" cy="382.33" r="31.47" fill="#f00" stroke="#000" stroke-width="2.75" opacity="0.6"/>
<circle cx="1082.00" cy="439.09" r="3.98" fill="#e5e5e5" stroke="#000" stroke-width="2.75" opacity="0.6"/>
<circle cx="1280.92" cy="439.09" r="4.83" fill="#e5e5e5" stroke="#000" stroke-width="2.75" opacity="0.6"/>
<circle cx="1479.84" cy="439.09" r="2.38" fill="#e5e5e5" stroke="#000" stroke-width="2.75" opacity="0.6"/>
<circle cx="1678.76" cy="439.09" r="2.33" fill="#e5e5e5" stroke="#000" stroke-width="2.75" opacity="0.6"/>
<circle cx="1877.68" cy="439.09" r="2.33" fill="#e5e5e5" stroke="#000" stroke-width="2.75" opacity="0.6"/>
<circle cx="1082.00" cy="495.84" r="6.29" fill="#e5e5e5" stroke="#000" stroke-width="2.75" opacity="0.6"/>
<circle cx="1280.92" cy="495.84" r="5.42" fill="#e5e5e5" stroke="#000" stroke-width="2.75" opacity="0.6"/>
<circle cx="1479.84" cy="495.84" r="4.29" fill="#e5e5e5" stroke="#000" stroke-width="2.75" opacity="0.6"/>
<circle cx="1678.76" cy="495.84" r="4.23" fill="#e5e5e5" stroke="#000" stroke-width="2.75" opacity="0.6"/>
<circle cx="1877.68" cy="495.84" r="2.72" fill="#e5e5e5" stroke="#000" stroke-width="2.75" opacity="0.6"/>
<circle cx="1082.00" cy="552.60" r="12.62" fill="#e5e5e5" stroke="#000" stroke-width="2.75" opacity="0.6"/>
<circle cx="1280.92" cy="552.60" r="11.12" fill="#e5e5e5" stroke="#000" stroke-width="2.75" opacity="0.6"/>
<circle cx="1479.84" cy="552.60" r="10.43" fill="#f00" stroke="#000" stroke-width="2.75" opacity="0.6"/>
<circle cx="1678.76" cy="552.60" r="10.08" fill="#f00" stroke="#000" stroke-width="2.75" opacity="0.6"/>
<circle cx="1877.68" cy="552.60" r="7.23" fill="#e5e5e5" stroke="#000" stroke-width="2.75" opacity="0.6"/>
<circle cx="1082.00" cy="609.35" r="4.03" fill="#e5e5e5" stroke="#000" stroke-width="2.75" opacity="0.6"/>
<circle cx="1280.92" cy="609.35" r="4.42" fill="#e5e5e5" stroke="#000" stroke-width="2.75" opacity="0.6"/>
<circle cx="1479.84" cy="609.35" r="4.92" fill="#e5e5e5" stroke="#000" stroke-width="2.75" opacity="0.6"/>
<circle cx="1678.76" cy="609.35" r="4.67" fill="#e5e5e5" stroke="#000" stroke-width="2.75" opacity="0.6"/>
<circle cx="1877.68" cy="609.35" r="10.33" fill="#e5e5e5" stroke="#000" stroke-width="2.75" opacity="0.6"/>
<circle cx="1082.00" cy="666.11" r="2.52" fill="#e5e5e5" stroke="#000" stroke-width="2.75" opacity="0.6"/>
<circle cx="1280.92" cy="666.11" r="2.67" fill="#e5e5e5" stroke="#000" stroke-width="2.75" opacity="0.6"/>
<circle cx="1479.84" cy="666.11" r="3.17" fill="#e5e5e5" stroke="#000" stroke-width="2.75" opacity="0.6"/>
<circle cx="1678.76" cy="666.11" r="3.29" fill="#e5e5e5" stroke="#000" stroke-width="2.75" opacity="0.6"/>
<circle cx="1877.68" cy="666.11" r="7.81" fill="#e5e5e5" stroke="#000" stroke-width="2.75" opacity="0.6"/>
<circle cx="1082.00" cy="722.86" r="5.98" fill="#e5e5e5" stroke="#000" stroke-width="2.75" opacity="0.6"/>
<circle cx="1280.92" cy="722.86" r="2.92" fill="#e5e5e5" stroke="#000" stroke-width="2.75" opacity="0.6"/>
<circle cx="1479.84" cy="722.86" r="3.07" fill="#e5e5e5" stroke="#000" stroke-width="2.75" opacity="0.6"/>
<circle cx="1678.76" cy="722.86" r="3.49" fill="#e5e5e5" stroke="#000" stroke-width="2.75" opacity="0.6"/>
<circle cx="1877.68" cy="722.86" r="6.27" fill="#e5e5e5" stroke="#000" stroke-width="2.75" opacity="0.6"/>
<circle cx="1082.00" cy="779.62" r="11.69" fill="#e5e5e5" stroke="#000" stroke-width="2.75" opacity="0.6"/>
<circle cx="1280.92" cy="779.62" r="12.93" fill="#f00" stroke="#000" stroke-width="2.75" opacity="0.6"/>
<circle cx="1479.84" cy="779.62" r="15.89" fill="#f00" stroke="#000" stroke-width="2.75" opacity="0.6"/>
<circle cx="1678.76" cy="779.62" r="16.12" fill="#f00" stroke="#000" stroke-width="2.75" opacity="0.6"/>
<circle cx="1877.68" cy="779.62" r="11.93" fill="#e5e5e5" stroke="#000" stroke-width="2.75" opacity="0.6"/>
<rect x="963.6" y="1" width="1031.9" height="811.3" fill="none" stroke="#000" stroke-width="2.4"/>
<line x1="951.5" y1="41.80" x2="962.9" y2="41.80" stroke="#333" stroke-width="3.6"/>
<text transform="translate(943.50,49.30) scale(1,1.042)" font-size="28.1" fill="#4d4d4d" text-anchor="end">Mean Temp</text>
<line x1="951.5" y1="98.56" x2="962.9" y2="98.56" stroke="#333" stroke-width="3.6"/>
<text transform="translate(943.50,106.06) scale(1,1.042)" font-size="28.1" fill="#4d4d4d" text-anchor="end">Mean Salinity</text>
<line x1="951.5" y1="155.31" x2="962.9" y2="155.31" stroke="#333" stroke-width="3.6"/>
<text transform="translate(942.80,158.41) scale(1,1.042)" font-size="28.1" fill="#4d4d4d" text-anchor="end">Mean NO<tspan font-size="22.6" dy="8.3">3</tspan></text>
<line x1="951.5" y1="212.06" x2="962.9" y2="212.06" stroke="#333" stroke-width="3.6"/>
<text transform="translate(942.80,215.16) scale(1,1.042)" font-size="28.1" fill="#4d4d4d" text-anchor="end">Mean PO<tspan font-size="22.6" dy="8.3">4</tspan></text>
<line x1="951.5" y1="268.82" x2="962.9" y2="268.82" stroke="#333" stroke-width="3.6"/>
<text transform="translate(942.80,271.92) scale(1,1.042)" font-size="28.1" fill="#4d4d4d" text-anchor="end">Mean SiO<tspan font-size="22.6" dy="8.3">4</tspan></text>
<line x1="951.5" y1="325.58" x2="962.9" y2="325.58" stroke="#333" stroke-width="3.6"/>
<text transform="translate(943.50,333.08) scale(1,1.042)" font-size="28.1" fill="#4d4d4d" text-anchor="end">Mean Chl<tspan dy="2.8">−</tspan><tspan dy="-2.8">a</tspan></text>
<line x1="951.5" y1="382.33" x2="962.9" y2="382.33" stroke="#333" stroke-width="3.6"/>
<text transform="translate(943.50,389.83) scale(1,1.042)" font-size="28.1" fill="#4d4d4d" text-anchor="end">Mean NCD</text>
<line x1="951.5" y1="439.09" x2="962.9" y2="439.09" stroke="#333" stroke-width="3.6"/>
<text transform="translate(943.50,446.59) scale(1,1.042)" font-size="28.1" fill="#4d4d4d" text-anchor="end">Coeff. Var. Temp</text>
<line x1="951.5" y1="495.84" x2="962.9" y2="495.84" stroke="#333" stroke-width="3.6"/>
<text transform="translate(943.50,503.34) scale(1,1.042)" font-size="28.1" fill="#4d4d4d" text-anchor="end">Coeff. Var. Salinity</text>
<line x1="951.5" y1="552.60" x2="962.9" y2="552.60" stroke="#333" stroke-width="3.6"/>
<text transform="translate(942.80,555.70) scale(1,1.042)" font-size="28.1" fill="#4d4d4d" text-anchor="end">Coeff. Var. NO<tspan font-size="22.6" dy="8.3">3</tspan></text>
<line x1="951.5" y1="609.35" x2="962.9" y2="609.35" stroke="#333" stroke-width="3.6"/>
<text transform="translate(942.80,612.45) scale(1,1.042)" font-size="28.1" fill="#4d4d4d" text-anchor="end">Coeff. Var. PO<tspan font-size="22.6" dy="8.3">4</tspan></text>
<line x1="951.5" y1="666.11" x2="962.9" y2="666.11" stroke="#333" stroke-width="3.6"/>
<text transform="translate(942.80,669.21) scale(1,1.042)" font-size="28.1" fill="#4d4d4d" text-anchor="end">Coeff. Var. SiO<tspan font-size="22.6" dy="8.3">4</tspan></text>
<line x1="951.5" y1="722.86" x2="962.9" y2="722.86" stroke="#333" stroke-width="3.6"/>
<text transform="translate(943.50,730.36) scale(1,1.042)" font-size="28.1" fill="#4d4d4d" text-anchor="end">Coeff. Var. Chl<tspan dy="2.8">−</tspan><tspan dy="-2.8">a</tspan></text>
<line x1="951.5" y1="779.62" x2="962.9" y2="779.62" stroke="#333" stroke-width="3.6"/>
<text transform="translate(943.50,787.12) scale(1,1.042)" font-size="28.1" fill="#4d4d4d" text-anchor="end">Coeff. Var. NCD</text>
<line x1="1082.00" y1="813" x2="1082.00" y2="824" stroke="#333" stroke-width="3.6"/>
<text transform="translate(1082.00,847.50) scale(1,1.042)" font-size="20.1" fill="#4d4d4d" text-anchor="middle">Archaea</text>
<line x1="1280.92" y1="813" x2="1280.92" y2="824" stroke="#333" stroke-width="3.6"/>
<text transform="translate(1280.92,847.50) scale(1,1.042)" font-size="20.1" fill="#4d4d4d" text-anchor="middle">Bacteria</text>
<line x1="1479.84" y1="813" x2="1479.84" y2="824" stroke="#333" stroke-width="3.6"/>
<text transform="translate(1479.84,847.50) scale(1,1.042)" font-size="20.1" fill="#4d4d4d" text-anchor="middle">Cyanobacteria</text>
<line x1="1678.76" y1="813" x2="1678.76" y2="824" stroke="#333" stroke-width="3.6"/>
<text transform="translate(1678.76,847.50) scale(1,1.042)" font-size="20.1" fill="#4d4d4d" text-anchor="middle">Photosynthetic Eukaryotic</text>
<text transform="translate(1678.76,869.60) scale(1,1.042)" font-size="20.1" fill="#4d4d4d" text-anchor="middle">Protists</text>
<line x1="1877.68" y1="813" x2="1877.68" y2="824" stroke="#333" stroke-width="3.6"/>
<text transform="translate(1877.68,847.50) scale(1,1.042)" font-size="20.1" fill="#4d4d4d" text-anchor="middle">Heterotrophic</text>
<text transform="translate(1877.68,869.60) scale(1,1.042)" font-size="20.1" fill="#4d4d4d" text-anchor="middle">Eukaryotic Protists</text>
</svg></body></html>
